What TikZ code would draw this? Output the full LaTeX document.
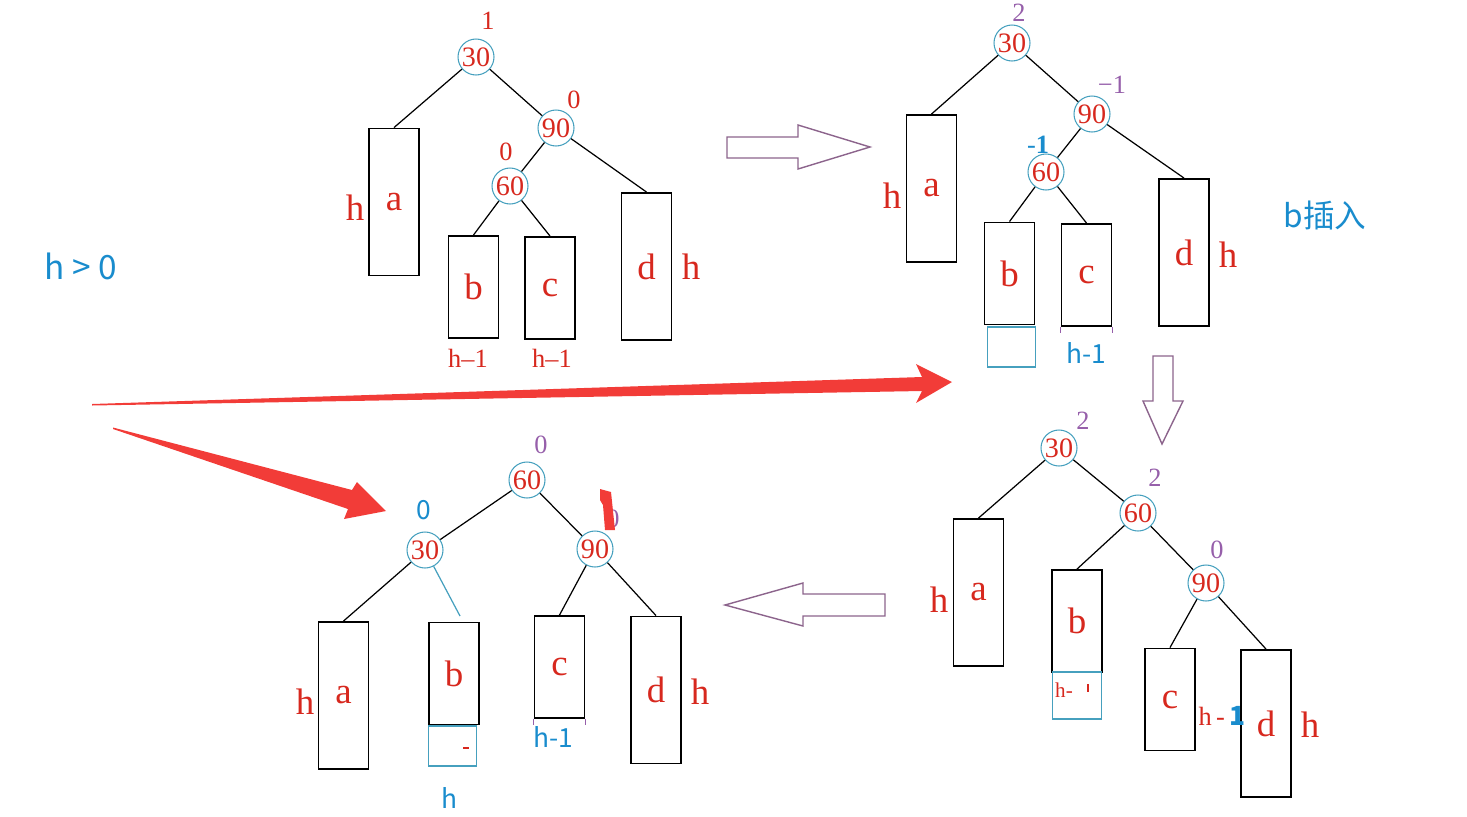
\documentclass[tikz,border=0pt]{standalone}
\usepackage{fontspec}
\setmainfont{Liberation Serif}
\newfontfamily\cjk{Noto Sans CJK SC}
\usepackage{xcolor}
\definecolor{keyred}{RGB}{215,40,30}
\definecolor{ringteal}{RGB}{70,160,190}
\definecolor{bfpurple}{RGB}{150,95,170}
\definecolor{hblue}{RGB}{25,140,205}
\definecolor{arrpurple}{RGB}{140,100,140}
\definecolor{bigred}{RGB}{242,60,56}
\usepackage{tikz}

\begin{document}
\begin{tikzpicture}[x=0.02cm,y=-0.02cm,
  keynode/.style={circle,draw=ringteal,line width=0.6pt,minimum size=0.72cm,inner sep=0pt,font=\fontsize{16}{16}\selectfont,text=keyred},
  tallbox/.style={draw=black,line width=1.1pt,minimum width=1cm,minimum height=2.94cm,inner sep=0pt,font=\fontsize{21}{21}\selectfont,text=keyred},
  shortbox/.style={tallbox,minimum height=2.04cm},
  newbox/.style={draw=ringteal,line width=0.8pt,minimum width=0.97cm,minimum height=0.8cm,inner sep=0pt},
  ht/.style={font=\fontsize{21}{21}\selectfont,text=keyred,inner sep=0pt},
  hsmall/.style={font=\fontsize{15}{15}\selectfont,text=keyred,inner sep=0pt},
  bfac/.style={font=\fontsize{15}{15}\selectfont,inner sep=0pt},
  note/.style={font=\cjk\fontsize{15}{15}\selectfont,text=hblue,inner sep=0pt},
  link/.style={line width=0.7pt},
  hollow/.style={draw=arrpurple,line width=0.8pt},
  bigarrow/.style={fill=bigred}
]
  \useasboundingbox (0,0) rectangle (1467,816);

  \node[note,font=\cjk\fontsize{19}{19}\selectfont] (cond) at (81,266) {h > 0};

  % Tree 1: before insertion
  \node[keynode] (t1n30) at (476,57) {30};
  \node[keynode] (t1n90) at (556,128) {90};
  \node[keynode] (t1n60) at (510,186) {60};
  \node[tallbox] (t1a) at (394,202) {a};
  \node[shortbox] (t1b) at (473.5,287) {b};
  \node[shortbox] (t1c) at (550,288) {c};
  \node[tallbox] (t1d) at (646.5,266.5) {d};
  \node[bfac,text=keyred] (t1f30) at (488,21) {1};
  \node[bfac,text=keyred] (t1f90) at (574,100) {0};
  \node[bfac,text=keyred] (t1f60) at (506,152) {0};
  \node[ht] (t1ha) at (355,208) {h};
  \node[ht] (t1hd) at (691,267) {h};
  \node[hsmall] (t1hb) at (468,358) {h–1};
  \node[hsmall] (t1hc) at (552,358) {h–1};
  \draw[link] (t1n30) -- (t1a.north);
  \draw[link] (t1n30) -- (t1n90);
  \draw[link] (t1n90) -- (t1n60);
  \draw[link] (t1n90) -- (t1d.north);
  \draw[link] (t1n60) -- (t1b.north);
  \draw[link] (t1n60) -- (t1c.north);

  % Tree 2: b grows
  \node[keynode] (t2n30) at (1012,43) {30};
  \node[keynode] (t2n90) at (1092,114) {90};
  \node[keynode] (t2n60) at (1046,172) {60};
  \node[tallbox] (t2a) at (931.5,188.5) {a};
  \node[shortbox] (t2b) at (1009.5,273.5) {b};
  \node[newbox] (t2bx) at (1011.5,347) {};
  \node[shortbox] (t2c) at (1086.5,275) {c};
  \node[tallbox] (t2d) at (1184,252.5) {d};
  \node[bfac,text=bfpurple] (t2f30) at (1019,13) {2};
  \node[bfac,text=bfpurple] (t2f90) at (1112,85) {−1};
  \node[bfac,text=hblue] (t2f60) at (1038,145) {-\textbf{1}};
  \node[ht] (t2ha) at (892,196) {h};
  \node[ht] (t2hd) at (1228,255) {h};
  \node[note] (t2hc) at (1086,353) {h-1};
  \node[note,font=\cjk\fontsize{18}{18}\selectfont] (ins) at (1325,215) {b插入};
  \draw[bfpurple] (t2c.south west) -- ++(0,6) (t2c.south east) -- ++(0,6);
  \draw[link] (t2n30) -- (t2a.north);
  \draw[link] (t2n30) -- (t2n90);
  \draw[link] (t2n90) -- (t2n60);
  \draw[link] (t2n90) -- (t2d.north);
  \draw[link] (t2n60) -- (t2b.north);
  \draw[link] (t2n60) -- (t2c.north);

  % Tree 3: after right rotation at 90
  \node[keynode] (t3n30) at (1059,448) {30};
  \node[keynode] (t3n60) at (1138,513) {60};
  \node[keynode] (t3n90) at (1206,583) {90};
  \node[tallbox] (t3a) at (978.5,592.5) {a};
  \node[shortbox] (t3b) at (1077,621) {b};
  \node[newbox,minimum height=0.94cm] (t3bx) at (1077,695.5) {};
  \node[shortbox] (t3c) at (1170,699.5) {c};
  \node[tallbox] (t3d) at (1266,723.5) {d};
  \node[bfac,text=bfpurple] (t3f30) at (1083,421) {2};
  \node[bfac,text=bfpurple] (t3f60) at (1155,478) {2};
  \node[bfac,text=bfpurple] (t3f90) at (1217,550) {0};
  \node[ht] (t3ha) at (939,600) {h};
  \node[ht] (t3hd) at (1310,725) {h};
  \node[hsmall,font=\fontsize{12}{12}\selectfont] (t3hb) at (1064,690) {h-};
  \draw[keyred,line width=0.6pt] (1088,684) -- (1088,692);
  \node[hsmall] (t3hc) at (1222,716) {h\,-\,\textcolor{hblue}{\cjk\bfseries 1}};
  \draw[link] (t3n30) -- (t3a.north);
  \draw[link] (t3n30) -- (t3n60);
  \draw[link] (t3n60) -- (t3b.north);
  \draw[link] (t3n60) -- (t3n90);
  \draw[link] (t3n90) -- (t3c.north);
  \draw[link] (t3n90) -- (t3d.north);

  % Tree 4: after left rotation at 30
  \node[keynode] (t4n60) at (527,480) {60};
  \node[keynode] (t4n30) at (425,550) {30};
  \node[keynode] (t4n90) at (595,549) {90};
  \node[tallbox] (t4a) at (343.5,695.5) {a};
  \node[shortbox] (t4b) at (454,673.5) {b};
  \node[newbox] (t4bx) at (452.5,746) {};
  \node[shortbox] (t4c) at (559.5,667) {c};
  \node[tallbox] (t4d) at (656,690) {d};
  \node[bfac,text=bfpurple] (t4f60) at (541,445) {0};
  \node[bfac,text=hblue,font=\cjk\fontsize{15}{15}\selectfont] (t4f30) at (424,510) {0};
  \node[bfac,text=bfpurple] (t4f90) at (613,519) {0};
  \fill[bigred] (600,489) -- (611,492) -- (615,530) -- (605,530) -- (603,505) -- (600,500) -- cycle;
  \node[ht] (t4ha) at (305,702) {h};
  \node[ht] (t4hd) at (700,692) {h};
  \node[note] (t4hb) at (449,798) {h};
  \node[note] (t4hc) at (553,737) {h-1};
  \draw[keyred,line width=0.6pt] (463,748) -- (469,748);
  \draw[bfpurple] (t4c.south west) -- ++(0,6) (t4c.south east) -- ++(0,6);
  \coordinate (t4bt) at (460,616);
  \draw[link] (t4n60) -- (t4n30);
  \draw[link] (t4n60) -- (t4n90);
  \draw[link] (t4n30) -- (t4a.north);
  \draw[link,draw=ringteal] (t4n30) -- (t4bt);
  \draw[link] (t4n90) -- (t4c.north);
  \draw[link] (t4n90) -- (t4d.north);

  % hollow arrows between the steps
  \draw[hollow] (727,137) -- (798,137) -- (798,125) -- (870,147) -- (798,169) -- (798,158) -- (727,158) -- cycle;
  \draw[hollow] (1153,356) -- (1173,356) -- (1173,401) -- (1183,401) -- (1162,444) -- (1143,401) -- (1153,401) -- cycle;
  \draw[hollow] (885,594) -- (803,594) -- (803,583) -- (725,605) -- (803,626) -- (803,616) -- (885,616) -- cycle;

  % red pointers
  \fill[bigarrow] (92,404) -- (922,377) -- (916,364) -- (952,382) -- (916,403) -- (922,391) -- (92,405.5) -- cycle;
  \fill[bigarrow] (113,427.5) -- (352,490) -- (357,482) -- (386,511) -- (344,519) -- (348,509) -- (113,429) -- cycle;
\end{tikzpicture}
\end{document}
